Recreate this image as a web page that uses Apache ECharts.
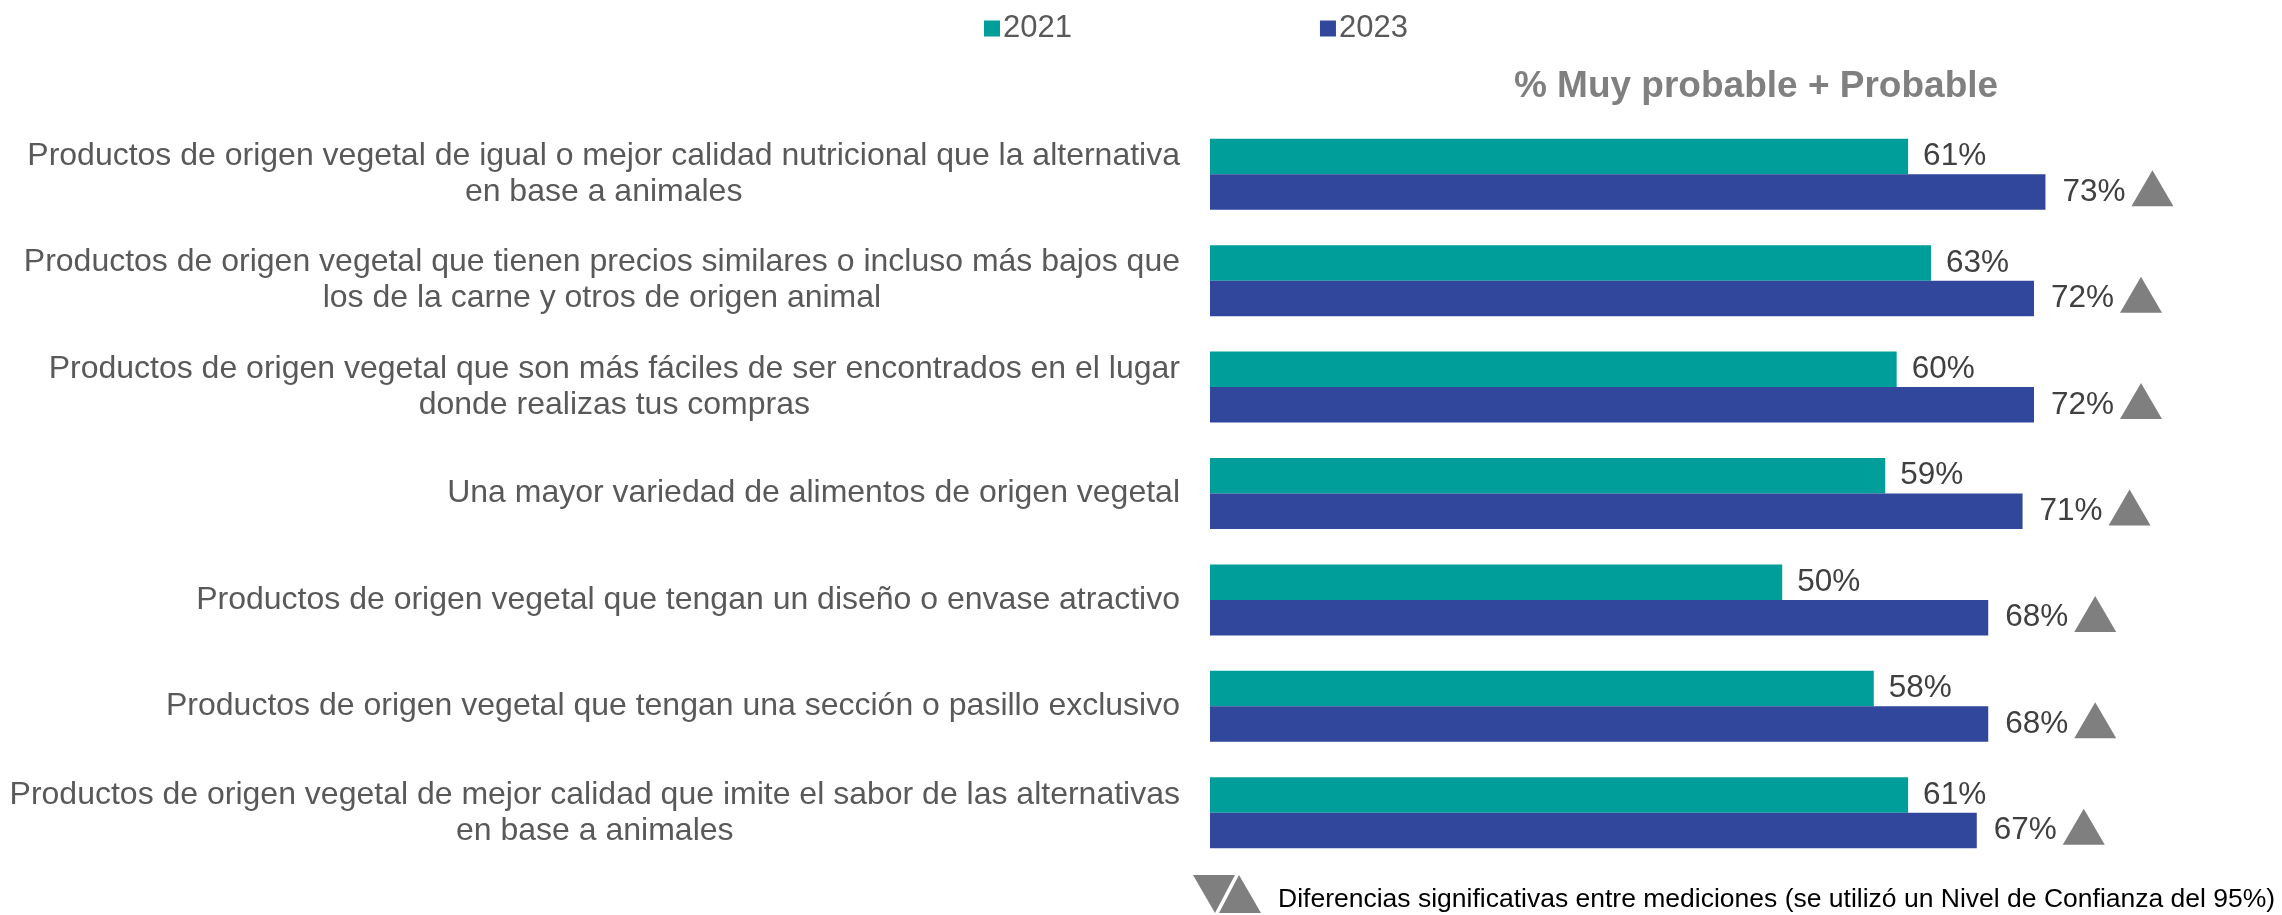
<!DOCTYPE html>
<html>
<head>
<meta charset="utf-8">
<script src="https://cdn.jsdelivr.net/npm/echarts@6/dist/echarts.min.js"></script>
<style>
  html, body { margin: 0; padding: 0; background: #fff; }
  #chart { width: 2282px; height: 915px; }
</style>
</head>
<body>
<div id="chart"></div>
<script>
// categorias (orden de arriba hacia abajo)
const categories = [
  "Productos de origen vegetal de igual o mejor calidad nutricional que la alternativa\nen base a animales",
  "Productos de origen vegetal que tienen precios similares o incluso más bajos que\nlos de la carne y otros de origen animal",
  "Productos de origen vegetal que son más fáciles de ser encontrados en el lugar\ndonde realizas tus compras",
  "Una mayor variedad de alimentos de origen vegetal",
  "Productos de origen vegetal que tengan un diseño o envase atractivo",
  "Productos de origen vegetal que tengan una sección o pasillo exclusivo",
  "Productos de origen vegetal de mejor calidad que imite el sabor de las alternativas\nen base a animales"
];
const values2021 = [61, 63, 60, 59, 50, 58, 61];
const values2023 = [73, 72, 72, 71, 68, 68, 67];
// diferencia significativa (triangulo hacia arriba)
const significant = [true, true, true, true, true, true, true];

const FONT = "'Liberation Sans', Arial, sans-serif";
const TEAL = "#009e9b";
const BLUE = "#30479c";
const GRAY = "#7f7f7f";

const sigData = [];
significant.forEach((s, i) => {
  if (s) sigData.push([values2023[i], i]);
});

const myChart = echarts.init(document.getElementById("chart"));
const option = {
  animation: false,
  textStyle: { fontFamily: FONT },
  title: {
    text: "% Muy probable + Probable",
    left: 1756,
    top: 68,
    textAlign: "center",
    padding: 0,
    textStyle: { fontFamily: FONT, fontSize: 37, fontWeight: "bold", color: "#808080" }
  },
  legend: {
    data: ["2021", "2023"],
    left: 984,
    top: 13,
    padding: 0,
    icon: "rect",
    itemWidth: 16,
    itemHeight: 16,
    itemGap: 248,
    textStyle: { fontFamily: FONT, fontSize: 31, color: "#595959", padding: [0, 0, 0, -2] }
  },
  grid: {
    left: 1210,
    right: 42,
    top: 121,
    bottom: 49,
    outerBoundsMode: "none"
  },
  xAxis: {
    type: "value",
    min: 0,
    max: 90,
    show: false,
    splitLine: { show: false }
  },
  yAxis: {
    type: "category",
    inverse: true,
    data: categories,
    axisLine: { show: false },
    axisTick: { show: false },
    axisLabel: {
      margin: 30,
      fontFamily: FONT,
      fontSize: 32,
      color: "#595959",
      lineHeight: 36,
      formatter: (v) => v.split("\n").map((s) => "{c|" + s + "}").join("\n"),
      rich: {
        c: { align: "center", fontFamily: FONT, fontSize: 32, color: "#595959", lineHeight: 36 }
      }
    }
  },
  series: [
    {
      name: "2021",
      type: "bar",
      data: values2021,
      barWidth: 35.5,
      barGap: "0%",
      itemStyle: { color: TEAL },
      label: {
        show: true,
        position: "right",
        distance: 15,
        formatter: "{c}%",
        fontFamily: FONT,
        fontSize: 31.5,
        color: "#404040"
      }
    },
    {
      name: "2023",
      type: "bar",
      data: values2023,
      barWidth: 35.5,
      barGap: "0%",
      itemStyle: { color: BLUE },
      label: {
        show: true,
        position: "right",
        distance: 17,
        formatter: "{c}%",
        fontFamily: FONT,
        fontSize: 31.5,
        color: "#404040"
      }
    },
    {
      name: "sig",
      type: "custom",
      data: sigData,
      encode: { x: 0, y: 1 },
      silent: true,
      z: 3,
      renderItem: (params, api) => {
        const p = api.coord([api.value(0), api.value(1)]);
        const x = p[0] + 86;
        return {
          type: "polygon",
          shape: { points: [[x, p[1] + 32], [x + 42, p[1] + 32], [x + 21, p[1] - 4]] },
          style: { fill: GRAY }
        };
      }
    }
  ],
  graphic: [
    {
      type: "polygon",
      shape: { points: [[1193, 875], [1235, 875], [1215, 913]] },
      style: { fill: GRAY }
    },
    {
      type: "polygon",
      shape: { points: [[1239, 875], [1219, 913], [1261, 913]] },
      style: { fill: GRAY }
    },
    {
      type: "text",
      left: 1278,
      top: 886,
      style: {
        text: "Diferencias significativas entre mediciones (se utilizó un Nivel de Confianza del 95%)",
        fontFamily: FONT,
        fontSize: 26.5,
        fill: "#000000"
      }
    }
  ]
};
myChart.setOption(option);
</script>
</body>
</html>
